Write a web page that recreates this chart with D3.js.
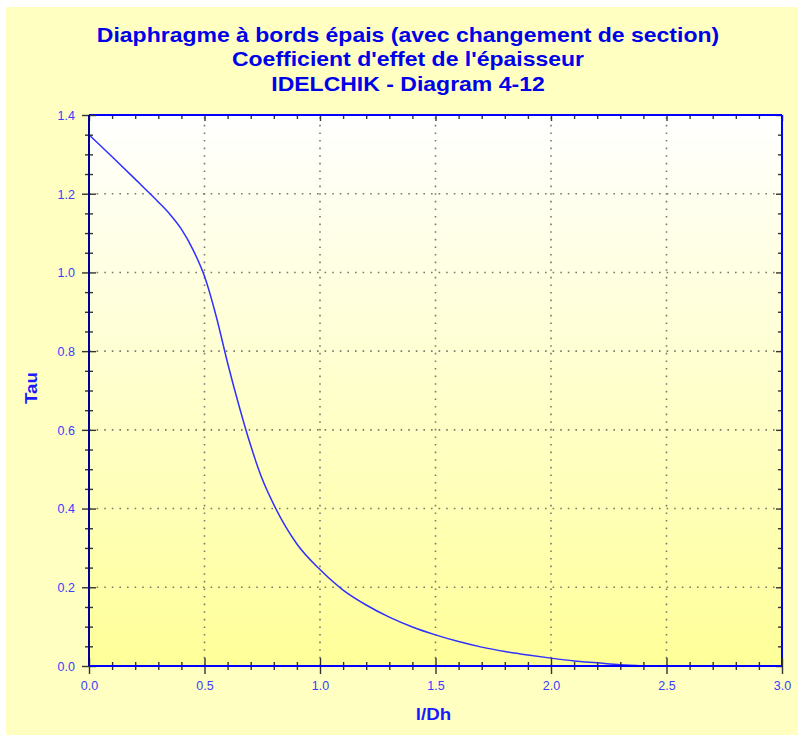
<!DOCTYPE html>
<html>
<head>
<meta charset="utf-8">
<script src="https://cdn.jsdelivr.net/npm/d3@7"></script>
<style>
  body { margin: 0; background: #ffffff; }
  text { font-family: "Liberation Sans", Arial, sans-serif; }
</style>
</head>
<body>
<svg id="chart" width="798" height="735"></svg>
<script>
// l/Dh values and Tau
var lDh = [0, 0.1, 0.2, 0.25, 0.3, 0.35, 0.4, 0.45, 0.5, 0.55, 0.6, 0.65, 0.7, 0.75, 0.8,
           0.9, 1.0, 1.1, 1.2, 1.3, 1.4, 1.5, 1.6, 1.7, 1.8, 1.9, 2.0, 2.1, 2.2, 2.3, 2.4];
var tau = [1.35, 1.294, 1.237, 1.208, 1.179, 1.148, 1.11, 1.058, 0.99, 0.89, 0.77, 0.66, 0.56, 0.475, 0.41,
           0.31, 0.245, 0.193, 0.155, 0.124, 0.099, 0.079, 0.062, 0.048, 0.037, 0.028, 0.02, 0.013, 0.008, 0.003, 0.0];

var titleLines = ["Diaphragme à bords épais (avec changement de section)",
                  "Coefficient d'effet de l'épaisseur",
                  "IDELCHIK - Diagram 4-12"];
var xTitle = "l/Dh";
var yTitle = "Tau";
var xMajor = [0, 0.5, 1.0, 1.5, 2.0, 2.5, 3.0];
var yMajor = [0, 0.2, 0.4, 0.6, 0.8, 1.0, 1.2, 1.4];

var svg = d3.select("#chart");
var margin = {top: 115, right: 16, bottom: 69, left: 89};
var W = +svg.attr("width"), H = +svg.attr("height");
var width = W - margin.left - margin.right,
    height = H - margin.top - margin.bottom;

var xScale = d3.scaleLinear().domain([0, 3]).range([0, width]);
var yScale = d3.scaleLinear().domain([0, 1.4]).range([height, 0]);

var xMinor = d3.range(0, 3.0001, 0.1).filter(function (v) { return Math.abs(v * 2 - Math.round(v * 2)) > 1e-6; });
var yMinor = d3.range(0, 1.4001, 0.05).filter(function (v) { return Math.abs(v * 5 - Math.round(v * 5)) > 1e-6; });

// yellow backdrop
svg.append("rect")
    .attr("x", 6).attr("y", 7)
    .attr("width", W - 6).attr("height", H - 7)
    .attr("fill", "#ffffc2");

var defs = svg.append("defs");
var grad = defs.append("linearGradient")
    .attr("id", "plotbg")
    .attr("x1", 0).attr("y1", 0).attr("x2", 0).attr("y2", 1);
grad.append("stop").attr("offset", "0%").attr("stop-color", "#ffffff");
grad.append("stop").attr("offset", "100%").attr("stop-color", "#ffff99");

// titles
var titleG = svg.append("g").attr("transform", "translate(408,0) scale(1.15,1)");
titleG.selectAll("text")
    .data(titleLines)
    .enter().append("text")
    .attr("x", 0)
    .attr("y", function (d, i) { return 42 + i * 24.5; })
    .attr("text-anchor", "middle")
    .attr("font-size", "20px")
    .attr("font-weight", "bold")
    .attr("fill", "#0000e8")
    .text(function (d) { return d; });

var g = svg.append("g")
    .attr("transform", "translate(" + margin.left + "," + margin.top + ")");

g.append("rect")
    .attr("width", width).attr("height", height)
    .attr("fill", "url(#plotbg)");

// dotted grid
var gridStyle = function (sel) {
    sel.attr("stroke", "#7a7a6a")
       .attr("stroke-width", 1.6)
       .attr("stroke-dasharray", "1.6,6");
};
g.selectAll(".vgrid")
    .data(xMajor.filter(function (v) { return v > 0 && v < 3; }))
    .enter().append("line")
    .attr("class", "vgrid")
    .attr("x1", function (d) { return xScale(d); })
    .attr("x2", function (d) { return xScale(d); })
    .attr("y1", height).attr("y2", 0)
    .call(gridStyle);
g.selectAll(".hgrid")
    .data(yMajor.filter(function (v) { return v > 0 && v < 1.4; }))
    .enter().append("line")
    .attr("class", "hgrid")
    .attr("x1", 0).attr("x2", width)
    .attr("y1", function (d) { return yScale(d); })
    .attr("y2", function (d) { return yScale(d); })
    .call(gridStyle);

// curve
var line = d3.line()
    .x(function (d, i) { return xScale(lDh[i]); })
    .y(function (d) { return yScale(d); })
    .curve(d3.curveMonotoneX);
g.append("path")
    .datum(tau)
    .attr("d", line)
    .attr("fill", "none")
    .attr("stroke", "#3030ff")
    .attr("stroke-width", 1.5);

function styleTicks(sel, color) {
    sel.selectAll(".tick line").attr("stroke", color || "#333").attr("stroke-width", 1.4);
}

// top and right borders with inward ticks
var topMinor = g.append("g").call(d3.axisBottom(xScale).tickValues(xMinor).tickSize(4).tickFormat(""));
var topMajor = g.append("g").call(d3.axisBottom(xScale).tickValues(xMajor).tickSize(6).tickFormat(""));
[topMinor, topMajor].forEach(function (a) { a.select(".domain").remove(); styleTicks(a); });
var rightMinor = g.append("g").attr("transform", "translate(" + width + ",0)")
    .call(d3.axisLeft(yScale).tickValues(yMinor).tickSize(4).tickFormat(""));
var rightMajor = g.append("g").attr("transform", "translate(" + width + ",0)")
    .call(d3.axisLeft(yScale).tickValues(yMajor).tickSize(6).tickFormat(""));
[rightMinor, rightMajor].forEach(function (a) { a.select(".domain").remove(); styleTicks(a); });

g.append("line").attr("x1", 0).attr("x2", width).attr("y1", 0).attr("y2", 0)
    .attr("stroke", "#0000ff").attr("stroke-width", 2);
g.append("line").attr("x1", width).attr("x2", width).attr("y1", 0).attr("y2", height)
    .attr("stroke", "#0000ff").attr("stroke-width", 2);

// bottom axis (ticks cross the line)
var xMinorAxis = g.append("g").attr("transform", "translate(0," + height + ")")
    .call(d3.axisBottom(xScale).tickValues(xMinor).tickSize(4).tickFormat(""));
xMinorAxis.selectAll(".tick line").attr("y1", -4);
var xAxisG = g.append("g").attr("transform", "translate(0," + height + ")")
    .call(d3.axisBottom(xScale).tickValues(xMajor).tickSize(8).tickFormat(d3.format(".1f")));
xAxisG.selectAll(".tick line").attr("y1", -8);
[xMinorAxis, xAxisG].forEach(function (a) { a.select(".domain").remove(); styleTicks(a); });
xAxisG.selectAll(".tick text")
    .attr("y", 24).attr("dy", null)
    .attr("font-size", "12.5px")
    .attr("font-family", "Liberation Sans, Arial, sans-serif")
    .attr("fill", "#3c3cff");

// left axis
var yMinorAxis = g.append("g")
    .call(d3.axisLeft(yScale).tickValues(yMinor).tickSize(4).tickFormat(""));
yMinorAxis.selectAll(".tick line").attr("x1", 4);
var yAxisG = g.append("g")
    .call(d3.axisLeft(yScale).tickValues(yMajor).tickSize(7).tickFormat(d3.format(".1f")));
yAxisG.selectAll(".tick line").attr("x1", 7);
[yMinorAxis, yAxisG].forEach(function (a) { a.select(".domain").remove(); styleTicks(a); });
yAxisG.selectAll(".tick text")
    .attr("x", -14).attr("dy", "0.35em")
    .attr("font-size", "12.5px")
    .attr("font-family", "Liberation Sans, Arial, sans-serif")
    .attr("fill", "#3c3cff");

g.append("line").attr("x1", 0).attr("x2", width).attr("y1", height).attr("y2", height)
    .attr("stroke", "#0000ff").attr("stroke-width", 2);
g.append("line").attr("x1", 0).attr("x2", 0).attr("y1", 0).attr("y2", height)
    .attr("stroke", "#000099").attr("stroke-width", 2);

// axis titles
svg.append("text")
    .attr("transform", "translate(" + (margin.left + width / 2 - 2) + ",720) scale(1.1,1)")
    .attr("text-anchor", "middle")
    .attr("font-size", "17px")
    .attr("font-weight", "bold")
    .attr("fill", "#1a1aff")
    .text(xTitle);
svg.append("text")
    .attr("transform", "translate(37,388) rotate(-90) scale(1.1,1)")
    .attr("text-anchor", "middle")
    .attr("font-size", "17px")
    .attr("font-weight", "bold")
    .attr("fill", "#1a1aff")
    .text(yTitle);
</script>
</body>
</html>
